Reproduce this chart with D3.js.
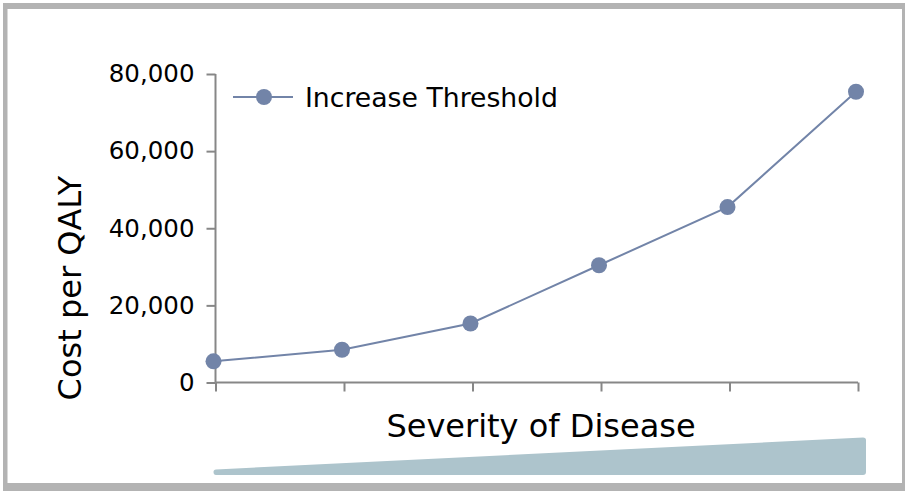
<!DOCTYPE html>
<html>
<head>
<meta charset="utf-8">
<script src="https://cdn.jsdelivr.net/npm/d3@7/dist/d3.min.js"></script>
<style>
  html, body { margin: 0; padding: 0; background: #fff; }
  svg { display: block; }
  text { font-family: "DejaVu Sans", Verdana, sans-serif; fill: #000; }
</style>
</head>
<body>
<svg id="chart" width="905" height="491"></svg>
<script>
// Severity levels along the x axis (unlabelled categories)
const severityLevels = ["1", "2", "3", "4", "5", "6"];
// Threshold cost per QALY at each severity level
const thresholdValues = [5500, 8500, 15300, 30400, 45500, 75400];
// Y axis ticks
const yTickValues = [0, 20000, 40000, 60000, 80000];
const seriesName = "Increase Threshold";
const yTitle = "Cost per QALY";
const xTitle = "Severity of Disease";

const svg = d3.select("#chart");
const seriesColor = "#7284a8";
const axisColor = "#878787";

// Panel frame
svg.append("rect").attr("x", 3).attr("y", 3).attr("width", 902).attr("height", 488).attr("fill", "#b3b3b3");
svg.append("rect").attr("x", 7.5).attr("y", 9).attr("width", 894.5).attr("height", 474).attr("fill", "#ffffff");

const x = d3.scalePoint().domain(severityLevels).range([215.5, 858]);
const y = d3.scaleLinear().domain([0, 80000]).range([382.5, 74]);

// Y axis
const yAxis = svg.append("g")
  .attr("transform", `translate(${x.range()[0]},0)`)
  .call(d3.axisLeft(y).tickValues(yTickValues).tickSize(9).tickPadding(12)
    .tickFormat(d3.format(",")));
yAxis.selectAll("path, line").attr("stroke", axisColor).attr("stroke-width", 2);
yAxis.select(".domain").attr("d", `M0,${y.range()[1]}V${y.range()[0]}`);
yAxis.selectAll("text").style("font-family", '"DejaVu Sans", Verdana, sans-serif')
  .style("font-size", "24.5px").attr("fill", "#000");

// X axis with blank tick labels
const xAxis = svg.append("g")
  .attr("transform", `translate(0,${y(0)})`)
  .call(d3.axisBottom(x).tickSize(9).tickFormat(() => ""));
xAxis.selectAll("path, line").attr("stroke", axisColor).attr("stroke-width", 2);
xAxis.select(".domain").attr("d", `M${x.range()[0]},0H${x.range()[1]}`);

// Axis titles
svg.append("text")
  .attr("transform", `translate(81,${288}) rotate(-90)`)
  .attr("text-anchor", "middle")
  .style("font-size", "32px")
  .text(yTitle);

svg.append("text")
  .attr("x", 541).attr("y", 437)
  .attr("text-anchor", "middle")
  .style("font-size", "32px")
  .text(xTitle);

// Severity wedge under the x title
const wedge = d3.path();
wedge.moveTo(216, 469.5);
wedge.lineTo(863, 437.5);
wedge.quadraticCurveTo(866, 437.5, 866, 440);
wedge.lineTo(866, 472);
wedge.quadraticCurveTo(866, 475, 863, 475);
wedge.lineTo(216, 475);
wedge.quadraticCurveTo(213.5, 475, 213.5, 472);
wedge.quadraticCurveTo(213.5, 469.5, 216, 469.5);
wedge.closePath();
svg.append("path").attr("d", wedge.toString()).attr("fill", "#adc4cc");

// Series line and markers
const pts = severityLevels.map((s, i) => ({ s, v: thresholdValues[i] }));
const line = d3.line().x(d => x(d.s) - 2).y(d => y(d.v));
svg.append("path").datum(pts)
  .attr("d", line)
  .attr("fill", "none")
  .attr("stroke", seriesColor)
  .attr("stroke-width", 2);
svg.append("g").selectAll("circle").data(pts).join("circle")
  .attr("cx", d => x(d.s) - 2)
  .attr("cy", d => y(d.v))
  .attr("r", 8)
  .attr("fill", seriesColor);

// Legend
const lg = svg.append("g");
lg.append("line").attr("x1", 233).attr("x2", 293).attr("y1", 97).attr("y2", 97)
  .attr("stroke", seriesColor).attr("stroke-width", 2);
lg.append("circle").attr("cx", 264).attr("cy", 97).attr("r", 8).attr("fill", seriesColor);
lg.append("text").attr("x", 305).attr("y", 107).style("font-size", "26.7px").text(seriesName);
</script>
</body>
</html>
